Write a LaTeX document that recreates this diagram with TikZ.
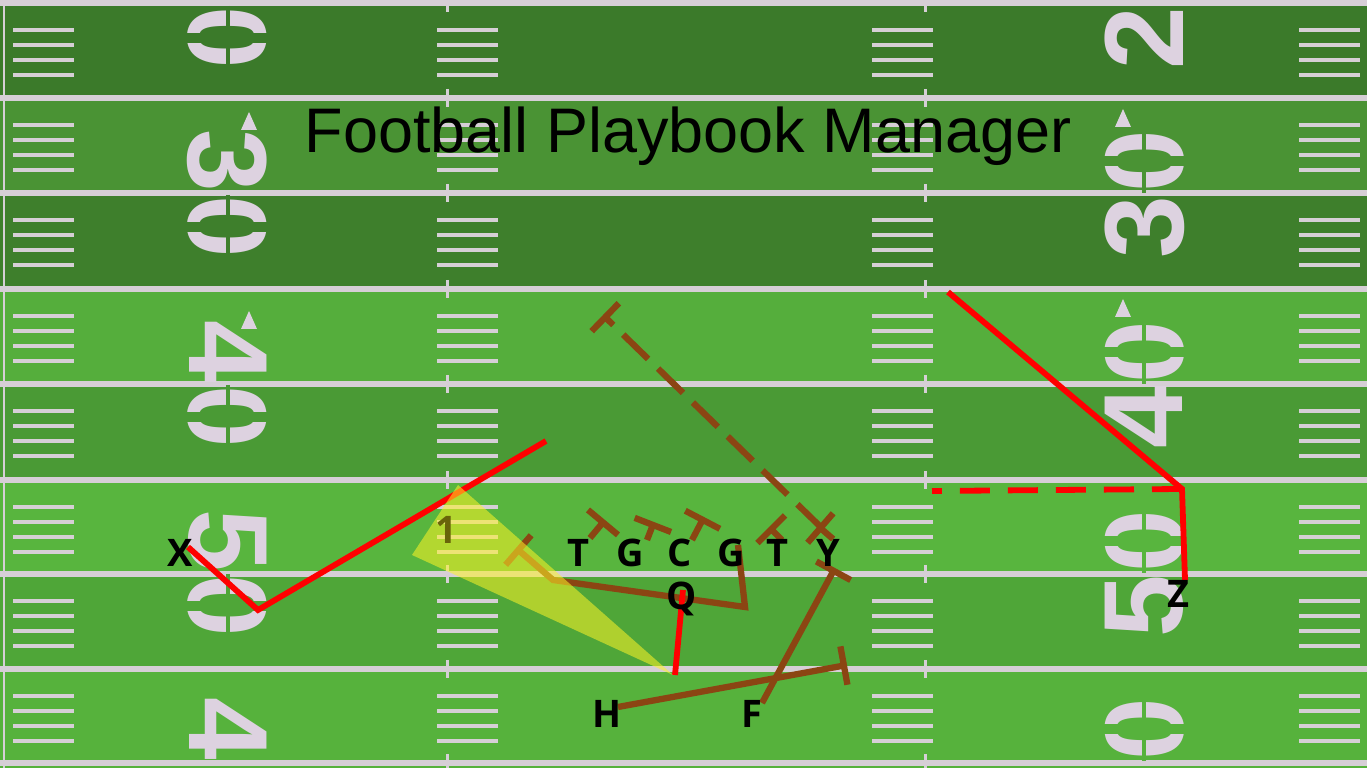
\documentclass[tikz,border=0pt]{standalone}
\usepackage{fontspec}
\setmainfont{Liberation Sans}
\newfontfamily\playfont{Open Sans}
\usetikzlibrary{arrows.meta}

\definecolor{turfa}{RGB}{59,122,42}
\definecolor{turfb}{RGB}{74,147,52}
\definecolor{turfc}{RGB}{62,127,44}
\definecolor{turfd}{RGB}{85,174,60}
\definecolor{turfe}{RGB}{74,154,53}
\definecolor{turff}{RGB}{88,181,62}
\definecolor{turfg}{RGB}{79,166,56}
\definecolor{turfh}{RGB}{86,178,60}
\definecolor{chalk}{RGB}{214,207,214}
\definecolor{paint}{RGB}{221,210,224}
\definecolor{brownline}{RGB}{139,69,19}
\definecolor{olivetext}{RGB}{105,100,10}

\begin{document}
\begin{tikzpicture}[x=0.01cm,y=-0.01cm,
    yardline/.style ={draw=chalk, line width=0.06cm},
    hashmark/.style ={draw=chalk, line width=0.035cm},
    stencil/.style ={text=paint, inner sep=0pt, text depth=0pt,
                     font=\fontsize{32pt}{34pt}\selectfont\bfseries},
    player/.style ={inner sep=0pt, text depth=0pt,
                    font=\playfont\fontsize{10.8pt}{12pt}\selectfont\bfseries},
    redroute/.style ={draw=red, line width=0.058cm},
    blockroute/.style ={draw=brownline, line width=0.063cm, -{Bar[width=0.39cm]}}]
   \useasboundingbox (0,0) rectangle (1367,768);
   % the field
   \foreach \top/\bot/\col in {0/98/turfa,98/193/turfb,193/289/turfc,289/384/turfd,
       384/480/turfe,480/574/turff,574/669/turfg,669/768/turfh}
     \fill[\col] (0,\top) rectangle (1367,\bot);
   \draw[chalk, line width=0.02cm] (4,0) -- (4,768);
   \foreach \y in {3,98,193,289,384,480,574,669,763} {
     \draw[yardline] (0,\y) -- (1367,\y);
     \foreach \x in {447,925}
       \draw[chalk, line width=0.03cm] (\x,\y-9) -- (\x,\y+9);
   }
   \foreach \y in {3,98,193,289,384,480,574,669}
     \foreach \d in {27,42,57,72}
       \foreach \x in {13,437,872,1299}
         \draw[hashmark] (\x,\y+\d) -- ++(61,0);
   \foreach \y/\l/\r in {38/0/2,161/3/0,227/0/3,352/4/0,417/0/4,541/5/0,606/0/5,729/4/0} {
     \node[stencil, rotate=-90] (l\y) at (228,\y) {\l};
     \node[stencil, rotate=90] (r\y) at (1144,\y) {\r};
   }
   % stencil gaps in the zeros
   \foreach \x/\y/\col in {228/38/turfa,228/227/turfc,228/417/turfe,228/606/turfg,
       1144/161/turfb,1144/352/turfd,1144/541/turff,1144/729/turfh} {
     \draw[\col, line width=0.035cm] (\x,\y-32) -- (\x,\y+32);
     \draw[\col, line width=0.1cm] (\x-45,\y) -- (\x+45,\y);
   }
   \foreach \x/\y in {249/112,249/311,1123/109,1123/299}
     \fill[paint] (\x,\y) -- ++(-8,18) -- ++(16,0) -- cycle;
   \node[font=\fontsize{17.9pt}{20pt}\selectfont, anchor=base] (title) at (688,153) {Football Playbook Manager};
   % route points
   \coordinate (x0) at (188,547);  \coordinate (x1) at (258,610);  \coordinate (x2) at (546,441);
   \coordinate (z0) at (1185,580); \coordinate (z1) at (1182,489); \coordinate (z2) at (948,292);
   \coordinate (z3) at (932,491);
   \coordinate (q0) at (683,590);  \coordinate (q1) at (675,675);
   \coordinate (lt0) at (590,538); \coordinate (lt1) at (605,520);
   \coordinate (lg0) at (647,540); \coordinate (lg1) at (654,522);
   \coordinate (c0) at (692,540);  \coordinate (c1) at (704,517);
   \coordinate (rt0) at (782,540); \coordinate (rt1) at (769,527);
   \coordinate (y0) at (833,539);  \coordinate (y1) at (818,526);  \coordinate (y2) at (603,315);
   \coordinate (g0) at (738,545);  \coordinate (g1) at (745,607);
   \coordinate (g2) at (553,580);  \coordinate (g3) at (516,548);
   \coordinate (h0) at (618,707);  \coordinate (h1) at (847,665);
   \coordinate (f0) at (762,703);  \coordinate (f1) at (835,568);
   % blocks and routes
   \foreach \a/\b in {lt0/lt1,lg0/lg1,c0/c1,rt0/rt1,y0/y1,h0/h1,f0/f1}
     \draw[blockroute] (\a) to (\b);
   \draw[blockroute] (g0) -- (g1) -- (g2) -- (g3);
   \draw[blockroute, -, {Bar[width=0.39cm]}-, dash pattern=on 0.347cm off 0.139cm,
         dash phase=0.251cm] (y2) to (y0);
   \draw[redroute] (x0) -- (x1) -- (x2);
   \draw[redroute] (z0) -- (z1) -- (z2);
   \draw[redroute, dash pattern=on 0.30cm off 0.18cm] (z1) to (z3);
   \draw[redroute] (q0) to (q1);
   \fill[yellow!85!white, opacity=0.55] (412,555) -- (458,485) -- (673,675) -- cycle;
   % players
   \node[player] (X) at (180,553) {X};
   \node[player] (LT) at (578,553) {T};
   \node[player] (LG) at (630,553) {G};
   \node[player] (C) at (680,553) {C};
   \node[player] (RG) at (731,553) {G};
   \node[player] (RT) at (777,553) {T};
   \node[player] (Y) at (828,553) {Y};
   \node[player] (Q) at (682,596) {Q};
   \node[player] (H) at (607,714) {H};
   \node[player] (F) at (752,714) {F};
   \node[player] (Z) at (1178,594) {Z};
   \node[player, text=olivetext] (one) at (446,530) {1};
 \end{tikzpicture}
\end{document}
